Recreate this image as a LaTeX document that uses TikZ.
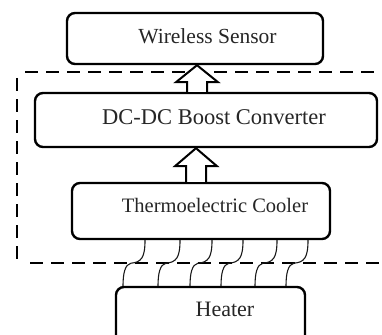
\documentclass[tikz,border=0pt]{standalone}
\usepackage{fontspec}
\setmainfont{Liberation Serif}
\usetikzlibrary{calc}
\begin{document}
\begin{tikzpicture}[x=1pt,y=-1pt,
  box/.style={draw, line width=2.4pt, rounded corners=8pt, inner sep=0pt, fill=white},
  lbl/.style={anchor=base, inner sep=0pt, text=black!85},
  encl/.style={line width=2.8pt, dash pattern=on 13pt off 8pt},
  blk/.style={draw, line width=2pt, fill=white, line join=miter},
  wire/.style={line width=1.1pt, black!90}]
\useasboundingbox (0,0) rectangle (382,334);
% dashed enclosure
\coordinate (dtl) at (25,72);
\coordinate (dtr) at (382,72);
\coordinate (dlt) at (17,78);
\coordinate (dlb) at (17,262);
\coordinate (dbl) at (30,263);
\coordinate (dbr) at (382,263);
\draw[encl] (dtl) -- (dtr);
\draw[encl] (dlt) -- (dlb);
\draw[encl] (dbl) -- (dbr);
% boxes
\node[box, minimum width=256, minimum height=51] (ws) at (195,38.5) {};
\node[box, minimum width=342, minimum height=54] (dc) at (206,120) {};
\node[box, minimum width=258, minimum height=56] (tec) at (201,211) {};
\node[box, minimum width=189, minimum height=58] (ht) at (210.5,316) {};
% labels
\node[lbl, font=\fontsize{21.5}{24}\selectfont] (wst) at (207.5,44) {Wireless Sensor};
\node[lbl, font=\fontsize{22.5}{25}\selectfont] (dct) at (214,124) {DC-DC Boost Converter};
\node[lbl, font=\fontsize{20.5}{23}\selectfont] (tect) at (215,212.5) {Thermoelectric Cooler};
\node[lbl, font=\fontsize{22}{25}\selectfont] (htt) at (225,316.5) {Heater};
% block arrows
\coordinate (ax1) at (197,0);
\coordinate (ax2) at (196,0);
\draw[blk] let \p1=(ax1 |- dc.north), \p2=(ax1 |- ws.south) in
  (\x1-10pt,\y1) -- (\x1-10pt,\y2-17pt) -- (\x1-21pt,\y2-17pt) -- (\x2,\y2)
  -- (\x1+21pt,\y2-17pt) -- (\x1+10pt,\y2-17pt) -- (\x1+10pt,\y1);
\draw[blk] let \p1=(ax2 |- tec.north), \p2=(ax2 |- dc.south) in
  (\x1-10pt,\y1) -- (\x1-10pt,\y2-18pt) -- (\x1-21pt,\y2-18pt) -- (\x2,\y2)
  -- (\x1+21pt,\y2-18pt) -- (\x1+10pt,\y2-18pt) -- (\x1+10pt,\y1);
% wires between cooler and heater
\foreach \t in {145,180,212,243,277,308} {
  \draw[wire] let \p1=(\t,0 |- tec.south), \p2=(\t,0 |- ht.north) in
    (\x1,\y1) .. controls (\x1,\y1-18pt) and (\x1-4pt,\y1-22pt) .. (\x1-14pt,\y1-23pt)
    .. controls (\x1-20pt,\y1-24pt) and (\x1-22pt,\y2+12pt) .. (\x1-22pt,\y2);
}
\end{tikzpicture}
\end{document}
